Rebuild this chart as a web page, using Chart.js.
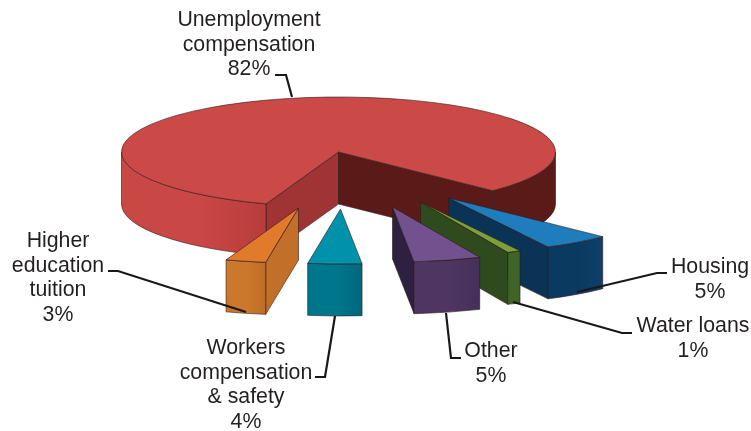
<!DOCTYPE html>
<html>
<head>
<meta charset="utf-8">
<title>Spending shares</title>
<style>
  html, body { margin: 0; padding: 0; background: #fff; }
  canvas { display: block; }
</style>
<script src="https://cdn.jsdelivr.net/npm/chart.js@4/dist/chart.umd.js"></script>
</head>
<body>
<canvas id="pie" width="751" height="431"></canvas>
<script>
// Categories, split over the lines they occupy on the label
const categories = [
  ['Unemployment', 'compensation'],
  ['Housing'],
  ['Water loans'],
  ['Other'],
  ['Workers', 'compensation', '& safety'],
  ['Higher', 'education', 'tuition']
];
const shares = [82, 5, 1, 5, 4, 3];

// Face colours per slice
const topColors = ['#CB4A47', '#1F7DBE', '#7BA03A', '#73518F', '#0092AA', '#E27A2C'];
const leadWallColors = ['#A03435', '#0A3356', '#2F4A1D', '#2D2040', '#00667A', '#C27029'];
const trailWallColors = ['#5A1A17', '#0A3356', '#2F4A1D', '#2D2040', '#00667A', '#C27029'];
const rimLeftColors = ['#C94745', '#0B3A60', '#3F6425', '#4E3562', '#00768C', '#CB782C'];
const rimRightColors = ['#B83C3C', '#0F3F68', '#3F6425', '#45305A', '#00677D', '#BE6D28'];
const rimBackRightColor = '#5A1A17';

// How far each slice is pulled out of the pie, in canvas pixels
const pullX = [0, 110, 82, 54, 2, -40];
const pullY = [0, 46, 50, 55, 57, 56];

// Label placement: centre x, first baseline y, line spacing
const labelX = [249, 710, 693, 491, 246, 58];
const labelY = [26, 273, 332, 357, 354, 247];
const labelLeading = 24.5;

// Leader polylines from label to slice
const leaders = [
  [[275, 75], [286, 75], [292, 97]],
  [[667, 273], [657, 273], [577, 292]],
  [[632, 333], [622, 333], [513, 302]],
  [[461, 358], [451, 358], [446, 313]],
  [[315, 377], [325, 377], [335, 316]],
  [[108, 271], [118, 271], [246, 312]]
];

// The pie is tilted: horizontal and vertical stretch of the flat disc
const STRETCH_X = 217 / 150;
const STRETCH_Y = 55 / 150;
const DEPTH = 52;
const OUTLINE = 'rgba(45,25,25,0.75)';

const tiltedPie = {
  id: 'tiltedPie',
  beforeDatasetsDraw(chart) {
    const { ctx } = chart;
    const arcs = chart.getDatasetMeta(0).data;
    // Back-to-front: the main slice first, then right to left
    arcs.forEach((arc, i) => drawSlice(ctx, arc, i));
    return false;
  },
  afterDraw(chart) {
    const { ctx } = chart;
    drawLeaders(ctx);
    drawLabels(ctx, chart.data.labels, chart.data.datasets[0].data);
  }
};

function drawSlice(ctx, arc, i) {
  const rx = arc.outerRadius * STRETCH_X;
  const ry = arc.outerRadius * STRETCH_Y;
  const cx = arc.x + pullX[i];
  const cy = arc.y + pullY[i];
  const a0 = arc.startAngle;
  const a1 = arc.endAngle;
  const at = (a, dy) => [cx + rx * Math.cos(a), cy + dy + ry * Math.sin(a)];

  ctx.save();
  ctx.lineWidth = 0.8;
  ctx.lineJoin = 'round';
  ctx.strokeStyle = OUTLINE;

  const quadWall = (a, color) => {
    const p = at(a, 0);
    const q = at(a, DEPTH);
    ctx.beginPath();
    ctx.moveTo(cx, cy);
    ctx.lineTo(p[0], p[1]);
    ctx.lineTo(q[0], q[1]);
    ctx.lineTo(cx, cy + DEPTH);
    ctx.closePath();
    ctx.fillStyle = color;
    ctx.fill();
    ctx.stroke();
  };

  // Radial walls facing the viewer
  if (Math.cos(a0) < 0) quadWall(a0, leadWallColors[i]);
  if (Math.cos(a1) > 0) quadWall(a1, trailWallColors[i]);

  // Curved rim, only where it lies on the near half of the ellipse
  for (let k = -1; k <= 2; k++) {
    const from = Math.max(a0, k * 2 * Math.PI);
    const to = Math.min(a1, k * 2 * Math.PI + Math.PI);
    if (to <= from) continue;
    const p0 = at(from, 0);
    const p1 = at(to, 0);
    let fill;
    if (i === 0 && k > 0) {
      fill = rimBackRightColor;
    } else {
      fill = ctx.createLinearGradient(Math.min(p0[0], p1[0]), 0, Math.max(p0[0], p1[0]), 0);
      fill.addColorStop(0, rimLeftColors[i]);
      fill.addColorStop(0.55, rimLeftColors[i]);
      fill.addColorStop(1, rimRightColors[i]);
    }
    ctx.beginPath();
    ctx.ellipse(cx, cy, rx, ry, 0, from, to, false);
    ctx.ellipse(cx, cy + DEPTH, rx, ry, 0, to, from, true);
    ctx.closePath();
    ctx.fillStyle = fill;
    ctx.fill();
    ctx.stroke();
  }

  // Top face
  ctx.beginPath();
  ctx.moveTo(cx, cy);
  ctx.ellipse(cx, cy, rx, ry, 0, a0, a1, false);
  ctx.closePath();
  ctx.fillStyle = arc.options.backgroundColor;
  ctx.fill();
  ctx.stroke();
  ctx.restore();
}

function drawLeaders(ctx) {
  ctx.save();
  ctx.strokeStyle = '#1A1718';
  ctx.lineWidth = 2.2;
  ctx.lineJoin = 'miter';
  leaders.forEach(line => {
    ctx.beginPath();
    line.forEach((p, n) => (n ? ctx.lineTo(p[0], p[1]) : ctx.moveTo(p[0], p[1])));
    ctx.stroke();
  });
  ctx.restore();
}

function drawLabels(ctx, names, values) {
  ctx.save();
  ctx.font = '21.3px "Liberation Sans", Arial, sans-serif';
  ctx.fillStyle = '#231F20';
  ctx.textAlign = 'center';
  ctx.textBaseline = 'alphabetic';
  names.forEach((lines, i) => {
    [...lines, values[i] + '%'].forEach((text, n) => {
      ctx.fillText(text, labelX[i], labelY[i] + n * labelLeading);
    });
  });
  ctx.restore();
}

new Chart(document.getElementById('pie'), {
  type: 'pie',
  data: {
    labels: categories,
    datasets: [{ data: shares, backgroundColor: topColors, borderWidth: 0 }]
  },
  options: {
    responsive: false,
    animation: false,
    rotation: 199.5,
    layout: { padding: { left: 0, right: 74, top: 2, bottom: 129 } },
    plugins: { legend: { display: false }, tooltip: { enabled: false } }
  },
  plugins: [tiltedPie]
});
</script>
</body>
</html>
